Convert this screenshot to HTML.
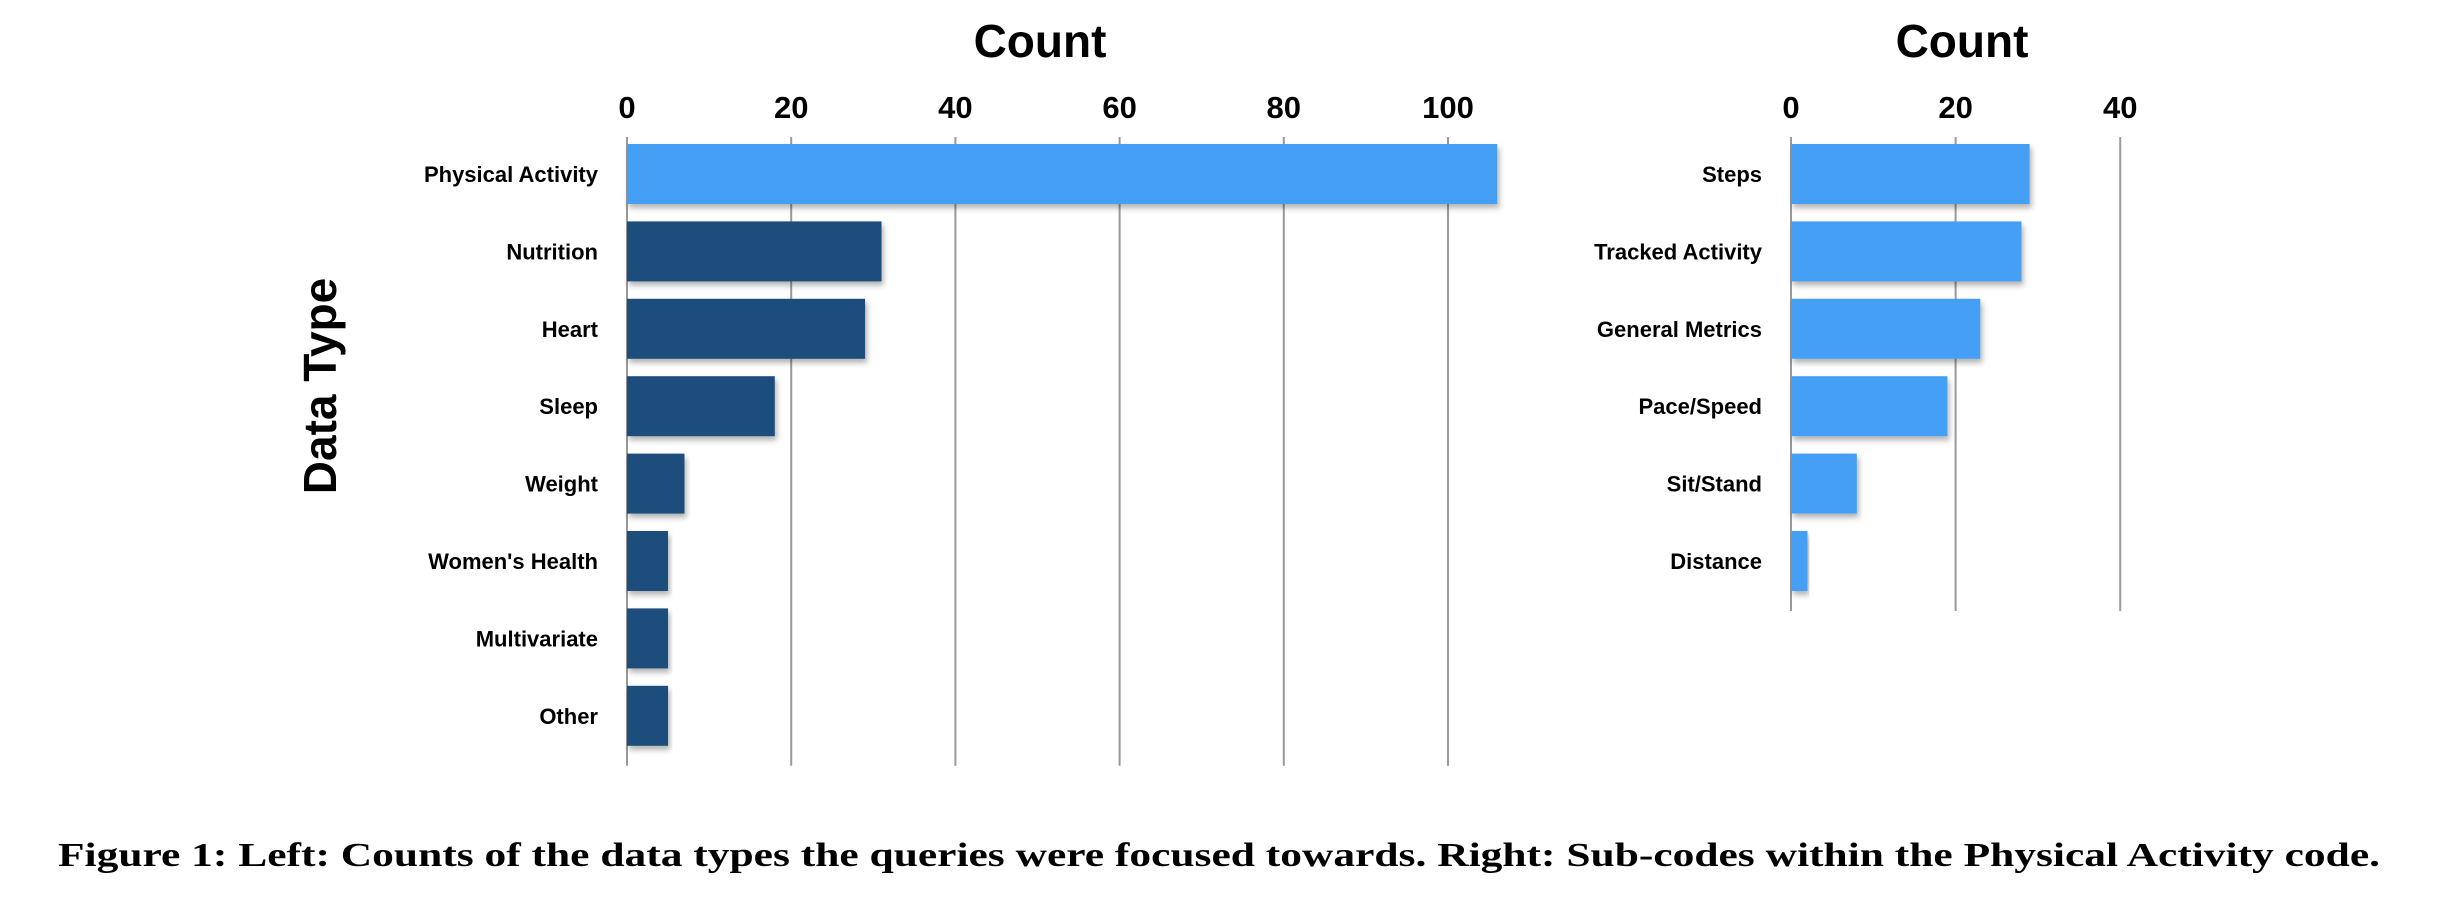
<!DOCTYPE html>
<html><head><meta charset="utf-8"><style>
html,body{margin:0;padding:0;background:#fff;}
svg{display:block;}
</style></head><body>
<svg id="fig" width="2438" height="898" viewBox="0 0 2438 898" xmlns="http://www.w3.org/2000/svg">
<defs>
<filter id="sh" x="-5%" y="-10%" width="115%" height="130%"><feDropShadow dx="2" dy="4" stdDeviation="3" flood-color="#000" flood-opacity="0.3"/></filter>
</defs>
<g id="left"></g>
<g id="right"></g>
<text x="0" y="0" transform="translate(336,386) rotate(-90)" text-anchor="middle" font-family="Liberation Sans, sans-serif" font-weight="bold" font-size="46">Data Type</text>
<text x="58" y="866" textLength="2322" lengthAdjust="spacingAndGlyphs" font-family="Liberation Serif, serif" font-weight="bold" font-size="34">Figure 1: Left: Counts of the data types the queries were focused towards. Right: Sub-codes within the Physical Activity code.</text>
</svg>
<script>
const leftCategories = ["Physical Activity","Nutrition","Heart","Sleep","Weight","Women's Health","Multivariate","Other"];
const leftValues = [106,31,29,18,7,5,5,5];
const leftTicks = [0,20,40,60,80,100];
const rightCategories = ["Steps","Tracked Activity","General Metrics","Pace/Speed","Sit/Stand","Distance"];
const rightValues = [29,28,23,19,8,2];
const rightTicks = [0,20,40];

const NS = "http://www.w3.org/2000/svg";
function mk(tag, attrs, parent){
  const e = document.createElementNS(NS, tag);
  for (const k in attrs) e.setAttribute(k, attrs[k]);
  parent.appendChild(e);
  return e;
}
function drawChart(g, cats, vals, ticks, opt){
  const xs = v => opt.x0 + v * opt.scale;
  const yc = i => opt.y0 + i * opt.pitch;
  const gridBottom = yc(cats.length - 1) + opt.bh / 2 + 20;
  const t = mk("text", {x: opt.titleX, y: 57, "text-anchor": "middle", "font-family": "Liberation Sans, sans-serif", "font-weight": "bold", "font-size": "46"}, g);
  
  
  t.textContent = "Count";
  ticks.forEach(v => {
    const l = mk("line", {x1: xs(v), x2: xs(v), y1: 137, y2: gridBottom, stroke: "#999", "stroke-width": "2"}, g);
    
    
    const tl = mk("text", {x: xs(v), y: 118, "text-anchor": "middle", "font-family": "Liberation Sans, sans-serif", "font-weight": "bold", "font-size": "31"}, g);
    
    
    tl.textContent = v;
  });
  cats.forEach((c, i) => {
    const r = mk("rect", {x: xs(0), y: yc(i) - opt.bh / 2, width: xs(vals[i]) - xs(0), height: opt.bh, fill: opt.color(i), filter: "url(#sh)"}, g);
    
    
    const lb = mk("text", {x: opt.labelX, y: yc(i) + 8, "text-anchor": "end", "font-family": "Liberation Sans, sans-serif", "font-weight": "bold", "font-size": "22"}, g);
    
    
    lb.textContent = c;
  });
}
drawChart(document.getElementById("left"), leftCategories, leftValues, leftTicks,
  {x0: 627, scale: 8.21, y0: 174, pitch: 77.4, bh: 60, labelX: 598, titleX: 1040,
   color: i => i === 0 ? "#45a0f5" : "#1f4e7b"});
drawChart(document.getElementById("right"), rightCategories, rightValues, rightTicks,
  {x0: 1791, scale: 8.23, y0: 174, pitch: 77.4, bh: 60, labelX: 1762, titleX: 1962,
   color: i => "#45a0f5"});
</script>
</body></html>
